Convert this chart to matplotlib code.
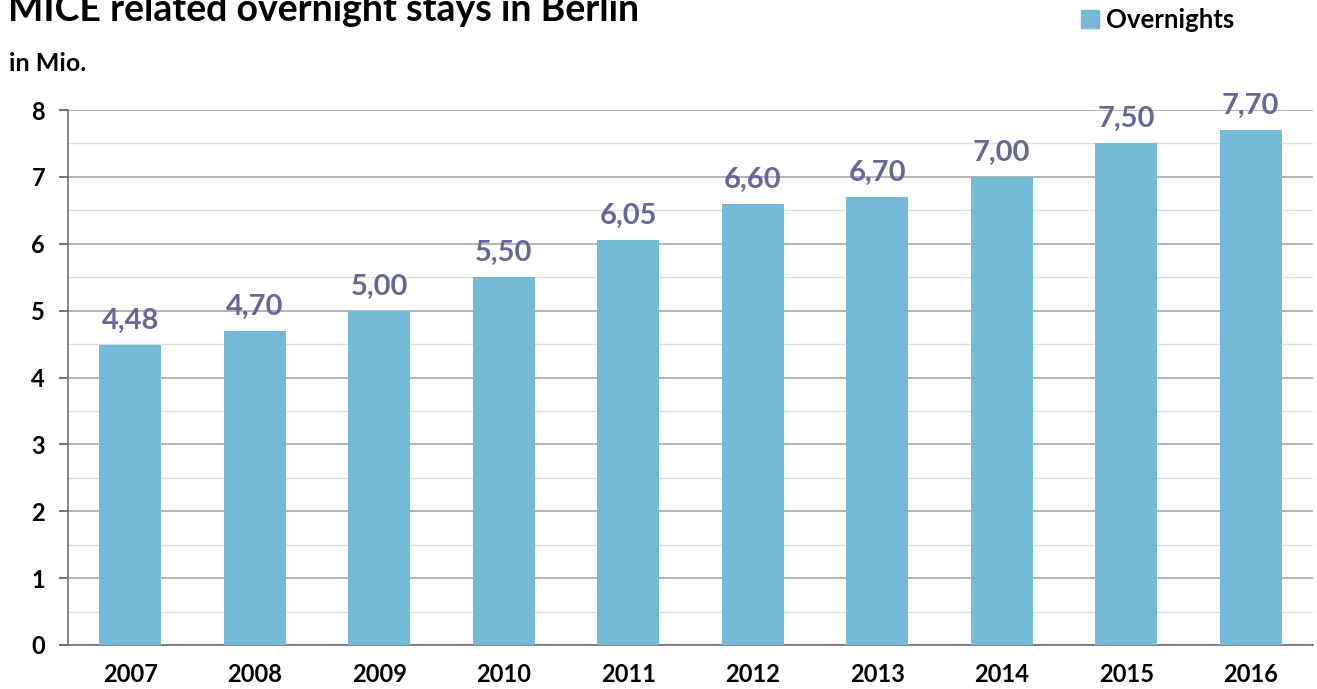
import matplotlib.pyplot as plt
from matplotlib.patches import Patch

plt.rcParams['font.family'] = ['Lato', 'DejaVu Sans']
plt.rcParams['font.weight'] = 'bold'

years = ['2007', '2008', '2009', '2010', '2011', '2012', '2013', '2014', '2015', '2016']
overnights = [4.48, 4.70, 5.00, 5.50, 6.05, 6.60, 6.70, 7.00, 7.50, 7.70]
labels = ['4,48', '4,70', '5,00', '5,50', '6,05', '6,60', '6,70', '7,00', '7,50', '7,70']

bar_color = '#74B9D6'
label_color = '#66669A'

fig = plt.figure(figsize=(13.17, 6.89), dpi=100)
ax = fig.add_axes([0.0516, 0.0639, 0.9454, 0.7764])

x = range(len(years))
bars = ax.bar(x, overnights, width=0.5, color=bar_color, zorder=3)
for b, lab in zip(bars, labels):
    ax.annotate(lab, (b.get_x() + b.get_width() / 2, b.get_height()),
                xytext=(0, 8), textcoords='offset points', ha='center', va='bottom',
                fontsize=21, fontweight='bold', color=label_color)

ax.set_xlim(-0.5, len(years) - 0.5)
ax.set_ylim(0, 8)
ax.set_yticks(range(0, 9))
ax.set_yticks([i + 0.5 for i in range(8)], minor=True)
ax.grid(axis='y', which='major', color='#A6A6A6', linewidth=1.2, zorder=0)
ax.grid(axis='y', which='minor', color='#DDDDDD', linewidth=1.0, zorder=0)
ax.set_xticks(list(x))
ax.set_xticklabels(years)
ax.tick_params(axis='x', length=0, pad=13, labelsize=17)
ax.tick_params(axis='y', which='major', length=6.5, width=1.2, color='#555555', pad=10, labelsize=17)
ax.tick_params(axis='y', which='minor', length=0)
for s in ['top', 'right']:
    ax.spines[s].set_visible(False)
ax.spines['left'].set_color('#707070')
ax.spines['left'].set_linewidth(1.2)
ax.spines['bottom'].set_color('#707070')
ax.spines['bottom'].set_linewidth(1.2)

fig.text(0.006, 0.97, 'MICE related overnight stays in Berlin', fontsize=27,
         fontweight='bold', va='baseline', ha='left')
fig.text(0.007, 0.908, 'in Mio.', fontsize=18, fontweight='bold', va='center', ha='left')

fig.legend(handles=[Patch(color=bar_color)], labels=['Overnights'], loc='center left',
           bbox_to_anchor=(0.803, 0.971), frameon=False, fontsize=18.5,
           handlelength=0.7, handleheight=0.7, handletextpad=0.3)

fig.savefig('out.png', dpi=100)
